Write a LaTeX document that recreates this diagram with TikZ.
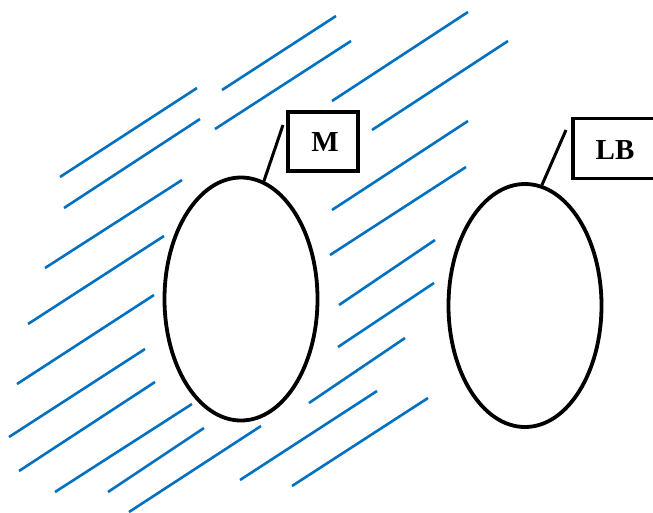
\documentclass[tikz,border=0pt]{standalone}
\usepackage{fontspec}
\setmainfont{Liberation Serif}
\usetikzlibrary{shapes.geometric}
\definecolor{hatch}{HTML}{0070C0}
\tikzset{
  hatchline/.style={draw=hatch, line width=2.6pt},
  region/.style={draw=black, ellipse, line width=3.8pt, minimum width=153pt, minimum height=243pt, inner sep=0pt},
  labelbox/.style={draw=black, rectangle, line width=3.2pt, inner sep=0pt},
  labeltext/.style={font=\fontsize{29}{32}\selectfont\bfseries, inner sep=0pt},
  leader/.style={draw=black, line width=3pt}
}
\begin{document}
\begin{tikzpicture}[x=1pt,y=-1pt]
\useasboundingbox (0,0) rectangle (653,512);
\clip (0,0) rectangle (653,512);
% hatching lines
\foreach \a/\b/\c/\d in {
  60/177/197/88, 64/208/200/119, 222/90/336/16, 215/129/351/41,
  332/101/468/12, 372/130/508/41, 45/268/182/180, 28/324/164/236,
  17/384/154/295, 9/437/145/349, 19/471/155/382, 55/492/192/404,
  108/492/204/428, 129/512/261/426, 240/480/377/391, 292/486/428/398,
  309/403/405/338, 338/347/434/283, 339/305/435/240, 332/210/468/121,
  330/255/466/167}
  \draw[hatchline] (\a,\b) -- (\c,\d);
% regions
\node[region] (mE) at (241,299) {};
\node[region] (lbE) at (525,305.5) {};
% label boxes
\node[labelbox, minimum width=70pt, minimum height=59pt] (mBox) at (323,141.5) {};
\node[labeltext] (mText) at (325,142) {M};
\node[labelbox, minimum width=110pt, minimum height=60pt] (lbBox) at (628,148.5) {};
\node[labeltext] (lbText) at (615,150) {LB};
% leaders
\coordinate (mLead) at (283,125);
\coordinate (lbLead) at (566,130);
\draw[leader] (mLead) -- (mE.79.6);
\draw[leader] (lbLead) -- (lbE.82.1);
\end{tikzpicture}
\end{document}
